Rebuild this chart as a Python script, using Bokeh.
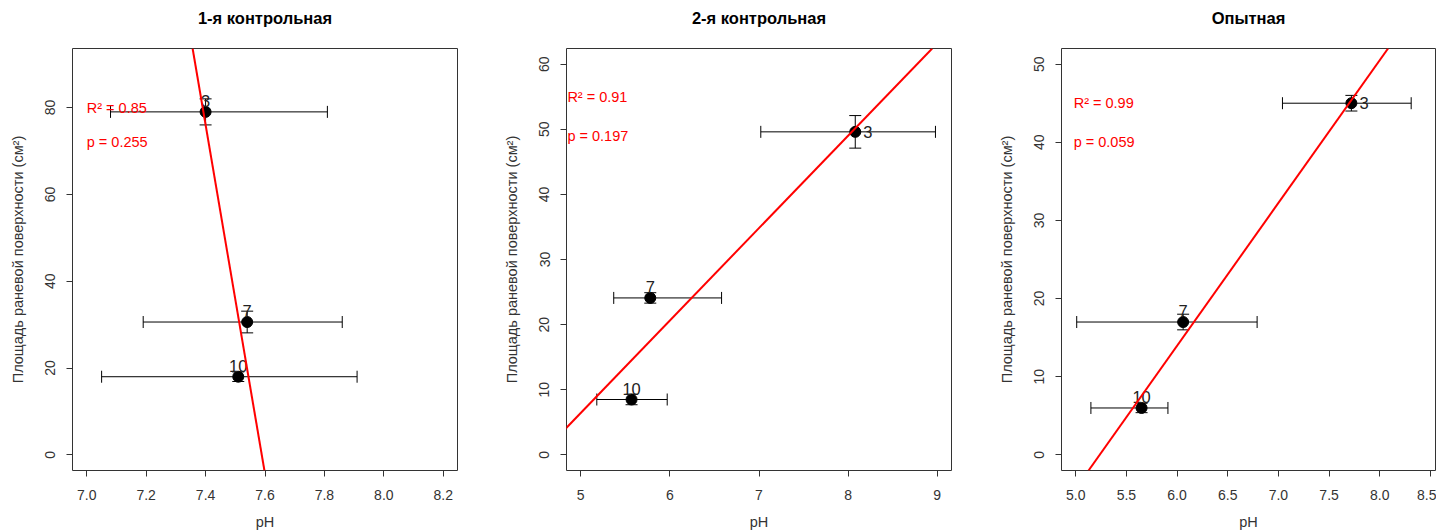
import numpy as np
from bokeh.plotting import figure
from bokeh.layouts import row
from bokeh.models import (Range1d, FixedTicker, NumeralTickFormatter, Whisker,
                          TeeHead, ColumnDataSource, Slope, Label, Title)
from bokeh.core.properties import value
from bokeh.embed import file_html
from bokeh.resources import INLINE

# ---------------- data ----------------
groups = ["1-я контрольная", "2-я контрольная", "Опытная"]
days = ["3", "7", "10"]

ph_1 = [7.40, 7.54, 7.51]
ph_lo_1 = [7.08, 7.19, 7.05]
ph_hi_1 = [7.81, 7.86, 7.91]
area_1 = [79.0, 30.6, 18.0]
area_err_1 = [3.0, 2.5, 1.1]

ph_2 = [8.08, 5.78, 5.57]
ph_lo_2 = [7.02, 5.37, 5.18]
ph_hi_2 = [8.98, 6.58, 5.97]
area_2 = [49.6, 24.1, 8.5]
area_err_2 = [2.5, 0.8, 0.8]

ph_3 = [7.72, 6.06, 5.65]
ph_lo_3 = [7.04, 5.01, 5.15]
ph_hi_3 = [8.31, 6.79, 5.91]
area_3 = [45.0, 17.0, 6.0]
area_err_3 = [1.0, 1.0, 0.6]

r2_text = ["0.85", "0.91", "0.99"]
p_text = ["0.255", "0.197", "0.059"]

xticks_1 = [7.0, 7.2, 7.4, 7.6, 7.8, 8.0, 8.2]
yticks_1 = [0, 20, 40, 60, 80]
xticks_2 = [5, 6, 7, 8, 9]
yticks_2 = [0, 10, 20, 30, 40, 50, 60]
xticks_3 = [5.0, 5.5, 6.0, 6.5, 7.0, 7.5, 8.0, 8.5]
yticks_3 = [0, 10, 20, 30, 40, 50]

x_label = "pH"
y_label = "Площадь раневой поверхности (см²)"

FONT = "Liberation Sans"


def ext(lo, hi):
    d = (hi - lo) * 0.04
    return lo - d, hi + d


def panel(title, x, lo, hi, y, err, xlim, ylim, xticks, yticks, xfmt,
          width, mbr, label_pos, stat_x, stat_y, r2, pv, x_end=None):
    xs, xe = ext(*xlim)
    if x_end is not None:
        xe = x_end
    ys, ye = ext(*ylim)
    p = figure(width=width, height=532, output_backend="svg",
               toolbar_location=None, x_range=Range1d(xs, xe),
               y_range=Range1d(ys, ye), min_border_left=72,
               min_border_right=mbr, min_border_top=48, min_border_bottom=62)
    # spacer between frame and title (keeps the title higher up)
    p.add_layout(Title(text=" ", text_font_size="1px", standoff=19), "above")
    t = Title(text=title, align="center", text_font=FONT,
              text_font_size="16.5px", text_font_style="bold",
              text_color="black", standoff=0)
    p.add_layout(t, "above")
    p.grid.visible = False
    p.outline_line_color = "#333333"
    p.outline_line_alpha = 1
    p.outline_line_width = 1
    p.background_fill_color = "white"
    p.border_fill_color = "white"

    p.xaxis.ticker = FixedTicker(ticks=xticks)
    p.yaxis.ticker = FixedTicker(ticks=yticks)
    p.xaxis.formatter = NumeralTickFormatter(format=xfmt)
    p.xaxis.axis_label = x_label
    p.yaxis.axis_label = y_label
    for ax in p.axis:
        ax.axis_line_color = None
        ax.major_tick_line_color = "#333333"
        ax.major_tick_out = 6
        ax.major_tick_in = 0
        ax.minor_tick_line_color = None
        ax.major_label_text_font = FONT
        ax.major_label_text_font_size = "14px"
        ax.major_label_text_color = "#333333"
        ax.axis_label_text_font = FONT
        ax.axis_label_text_font_size = "14.5px"
        ax.axis_label_text_font_style = "normal"
        ax.axis_label_text_color = "#333333"
    p.yaxis.major_label_orientation = "vertical"
    p.yaxis.major_label_standoff = 11
    p.yaxis.axis_label_standoff = 17
    p.xaxis.major_label_standoff = 13
    p.xaxis.axis_label_standoff = 11

    src = ColumnDataSource(dict(
        x=x, lo=lo, hi=hi, y=y,
        ylo=[a - e for a, e in zip(y, err)],
        yhi=[a + e for a, e in zip(y, err)],
        lab=days))

    slope, icpt = np.polyfit(np.array(x), np.array(y), 1)
    p.add_layout(Slope(gradient=slope, y_intercept=icpt,
                       line_color="red", line_width=2))

    p.scatter("x", "y", source=src, size=11, color="black")
    p.add_layout(Whisker(source=src, base="y", lower="lo", upper="hi",
                         dimension="width", line_color="black",
                         upper_head=TeeHead(size=12, line_color="black"),
                         lower_head=TeeHead(size=12, line_color="black")))
    p.add_layout(Whisker(source=src, base="x", lower="ylo", upper="yhi",
                         dimension="height", line_color="black",
                         upper_head=TeeHead(size=12, line_color="black"),
                         lower_head=TeeHead(size=12, line_color="black")))

    for i, pos in enumerate(label_pos):
        if pos == "above":
            p.text(x=[x[i]], y=[y[i]], text=[days[i]], text_align="center",
                   text_baseline="bottom", y_offset=-5,
                   text_font=value(FONT), text_font_size="16.5px",
                   text_color="#222222")
        else:
            p.text(x=[x[i]], y=[y[i]], text=[days[i]], text_align="left",
                   text_baseline="middle", x_offset=8,
                   text_font=value(FONT), text_font_size="16.5px",
                   text_color="#222222")

    p.add_layout(Label(x=stat_x, y=stat_y[0], text="R² = " + r2,
                       text_font=FONT, text_font_size="14.5px",
                       text_color="red", text_baseline="middle"))
    p.add_layout(Label(x=stat_x, y=stat_y[1], text="p = " + pv,
                       text_font=FONT, text_font_size="14.5px",
                       text_color="red", text_baseline="middle"))
    return p


p1 = panel(groups[0], ph_1, ph_lo_1, ph_hi_1, area_1, area_err_1,
           (7.0, 8.2), (0, 90), xticks_1, yticks_1, "0.0",
           494, 37, ["above", "above", "above"], 7.0, (80, 72),
           r2_text[0], p_text[0])
p2 = panel(groups[1], ph_2, ph_lo_2, ph_hi_2, area_2, area_err_2,
           (5, 9), (0, 60), xticks_2, yticks_2, "0",
           495, 38, ["right", "above", "above"], 4.85, (55, 49),
           r2_text[1], p_text[1])
p3 = panel(groups[2], ph_3, ph_lo_3, ph_hi_3, area_3, area_err_3,
           (5.0, 8.5), (0, 50), xticks_3, yticks_3, "0.0",
           447, 1, ["right", "above", "above"], 4.98, (45, 40),
           r2_text[2], p_text[2], x_end=8.55)

layout = row(p1, p2, p3)
open("out.html", "w").write(file_html(layout, INLINE))
